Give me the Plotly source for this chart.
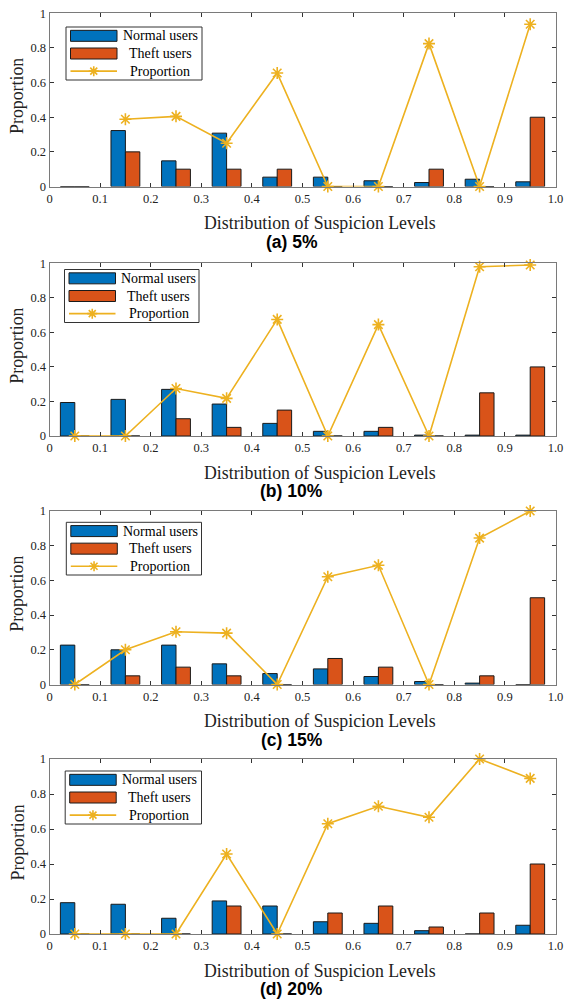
import plotly.graph_objects as go

# The page body adds an 8px margin, so the figure is sized to fill the rest of the window.
PAGE_W, PAGE_H, OFF = 572, 1001, 8
FW, FH = PAGE_W - OFF, PAGE_H - OFF

# ---------------- data ----------------
levels = [0.05, 0.15, 0.25, 0.35, 0.45, 0.55, 0.65, 0.75, 0.85, 0.95]
x_tick_vals = [0, 0.1, 0.2, 0.3, 0.4, 0.5, 0.6, 0.7, 0.8, 0.9, 1.0]
x_tick_text = ["0", "0.1", "0.2", "0.3", "0.4", "0.5", "0.6", "0.7", "0.8", "0.9", "1.0"]
y_tick_vals = [0, 0.2, 0.4, 0.6, 0.8, 1]
y_tick_text = ["0", "0.2", "0.4", "0.6", "0.8", "1"]
panel_titles = ["(a) 5%", "(b) 10%", "(c) 15%", "(d) 20%"]
series_names = ["Normal users", "Theft users", "Proportion"]

normal_a = [0, 0.323, 0.148, 0.308, 0.054, 0.054, 0.033, 0.023, 0.042, 0.027]
theft_a = [0, 0.20, 0.10, 0.10, 0.10, 0, 0, 0.10, 0, 0.40]
prop_a = [None, 0.388, 0.405, 0.250, 0.655, 0, 0, 0.825, 0, 0.937]

normal_b = [0.194, 0.212, 0.270, 0.185, 0.073, 0.027, 0.027, 0.005, 0.005, 0.005]
theft_b = [0, 0, 0.10, 0.05, 0.15, 0, 0.05, 0, 0.25, 0.40]
prop_b = [0, 0, 0.275, 0.218, 0.675, 0, 0.645, 0, 0.980, 0.990]

normal_c = [0.227, 0.200, 0.227, 0.119, 0.063, 0.090, 0.046, 0.017, 0.008, 0]
theft_c = [0, 0.05, 0.10, 0.05, 0, 0.15, 0.10, 0, 0.05, 0.50]
prop_c = [0, 0.200, 0.304, 0.296, 0, 0.621, 0.687, 0, 0.844, 1.0]

normal_d = [0.179, 0.170, 0.090, 0.189, 0.160, 0.070, 0.061, 0.019, 0, 0.050]
theft_d = [0, 0, 0, 0.16, 0, 0.12, 0.16, 0.04, 0.12, 0.40]
prop_d = [0, 0, 0, 0.457, 0, 0.630, 0.730, 0.667, 1.0, 0.889]

panels = [
    (normal_a, theft_a, prop_a),
    (normal_b, theft_b, prop_b),
    (normal_c, theft_c, prop_c),
    (normal_d, theft_d, prop_d),
]

# ---------------- styling / layout ----------------
C_BLUE = "#0072BD"
C_ORANGE = "#D95319"
C_YELLOW = "#EDB120"
SERIF = "Liberation Serif"
SANS = "Liberation Sans"

# positions below are in page pixels of the reference picture
X0_PX, X1_PX = 49.5, 555.5
tops = [13.3, 263.3, 511.0, 759.0]
bottoms = [186.5, 436.0, 684.5, 934.0]
leg_boxes = [  # left, top, right, bottom (px)
    (66, 27, 202, 80),
    (64.5, 269.5, 199, 322.5),
    (66.3, 522.3, 201.5, 575),
    (65.2, 771, 201.5, 824),
]


def px_x(p):
    return (p - OFF) / FW


def px_y(p):
    return 1 - (p - OFF) / FH


fig = go.Figure()
annotations = []
shapes = []

for i, (nrm, thf, prp) in enumerate(panels):
    sfx = "" if i == 0 else str(i + 1)
    xa, ya = "x" + sfx, "y" + sfx
    fig.add_trace(go.Bar(x=levels, y=nrm, name=series_names[0], xaxis=xa, yaxis=ya,
                         marker=dict(color=C_BLUE, line=dict(color="#1a1a1a", width=1)),
                         showlegend=False))
    fig.add_trace(go.Bar(x=levels, y=thf, name=series_names[1], xaxis=xa, yaxis=ya,
                         marker=dict(color=C_ORANGE, line=dict(color="#1a1a1a", width=1)),
                         showlegend=False))
    fig.add_trace(go.Scatter(x=levels, y=prp, name=series_names[2], xaxis=xa, yaxis=ya,
                             mode="lines+markers", connectgaps=False,
                             line=dict(color=C_YELLOW, width=1.6),
                             marker=dict(symbol="asterisk-open", size=10,
                                         line=dict(color=C_YELLOW, width=1.6)),
                             showlegend=False, cliponaxis=False))

    common = dict(showgrid=False, zeroline=False, showline=True, linecolor="#7a7a7a",
                  linewidth=1, mirror="ticks", ticks="inside", ticklen=4,
                  tickcolor="#333333", tickwidth=1, automargin=False,
                  ticklabeloverflow="allow",
                  tickfont=dict(family=SERIF, size=12.5, color="#222222"))
    fig.layout["xaxis" + sfx] = dict(common, domain=[px_x(X0_PX), px_x(X1_PX)],
                                     range=[0, 1.0], tickvals=x_tick_vals,
                                     ticktext=x_tick_text, anchor=ya)
    fig.layout["yaxis" + sfx] = dict(common, domain=[px_y(bottoms[i]), px_y(tops[i])],
                                     range=[0, 1.0], tickvals=y_tick_vals,
                                     ticktext=y_tick_text, anchor=xa)

    # axis titles and panel caption
    annotations.append(dict(xref="paper", yref="paper", x=px_x(319.5), y=px_y(bottoms[i] + 36.5),
                            text="Distribution of Suspicion Levels", showarrow=False,
                            xanchor="center", yanchor="middle",
                            font=dict(family=SERIF, size=17.8, color="#222222")))
    annotations.append(dict(xref="paper", yref="paper", x=px_x(17),
                            y=px_y((tops[i] + bottoms[i]) / 2 - 4),
                            text="Proportion", showarrow=False, textangle=-90,
                            xanchor="center", yanchor="middle",
                            font=dict(family=SERIF, size=17.8, color="#222222")))
    annotations.append(dict(xref="paper", yref="paper", x=px_x(291.5), y=px_y(bottoms[i] + 55),
                            text="<b>" + panel_titles[i] + "</b>", showarrow=False,
                            xanchor="center", yanchor="middle",
                            font=dict(family=SANS, size=17.5, color="black")))

    # legend (drawn manually to mimic MATLAB legend)
    L, T, R, B = leg_boxes[i]
    shapes.append(dict(type="rect", xref="paper", yref="paper",
                       x0=px_x(L), x1=px_x(R), y0=px_y(B), y1=px_y(T),
                       line=dict(color="#333333", width=1), fillcolor="white"))
    row_h = (B - T) / 3.0
    rows = [T + row_h * (k + 0.5) for k in range(3)]
    pl, pr = L + 4.5, L + 51
    for k, col in enumerate([C_BLUE, C_ORANGE]):
        shapes.append(dict(type="rect", xref="paper", yref="paper",
                           x0=px_x(pl), x1=px_x(pr),
                           y0=px_y(rows[k] + 5.5), y1=px_y(rows[k] - 5.5),
                           line=dict(color="#1a1a1a", width=1), fillcolor=col))
    shapes.append(dict(type="line", xref="paper", yref="paper",
                       x0=px_x(pl), x1=px_x(pr), y0=px_y(rows[2]), y1=px_y(rows[2]),
                       line=dict(color=C_YELLOW, width=1.6)))
    shapes.append(dict(type="path", xref="paper", yref="paper",
                       xsizemode="pixel", ysizemode="pixel",
                       xanchor=px_x((pl + pr) / 2), yanchor=px_y(rows[2]),
                       path="M-5,0L5,0M0,-5L0,5M-3.5,-3.5L3.5,3.5M-3.5,3.5L3.5,-3.5",
                       line=dict(color=C_YELLOW, width=1.6)))
    for k in range(3):
        annotations.append(dict(xref="paper", yref="paper", x=px_x(L + 94), y=px_y(rows[k]),
                                text=series_names[k], showarrow=False,
                                xanchor="center", yanchor="middle",
                                font=dict(family=SERIF, size=14, color="black")))

fig.update_layout(
    width=FW, height=FH, margin=dict(l=0, r=0, t=0, b=0),
    paper_bgcolor="white", plot_bgcolor="white",
    barmode="group", bargap=0.43, bargroupgap=0,
    showlegend=False, annotations=annotations, shapes=shapes,
)

fig.write_html("out.html")
